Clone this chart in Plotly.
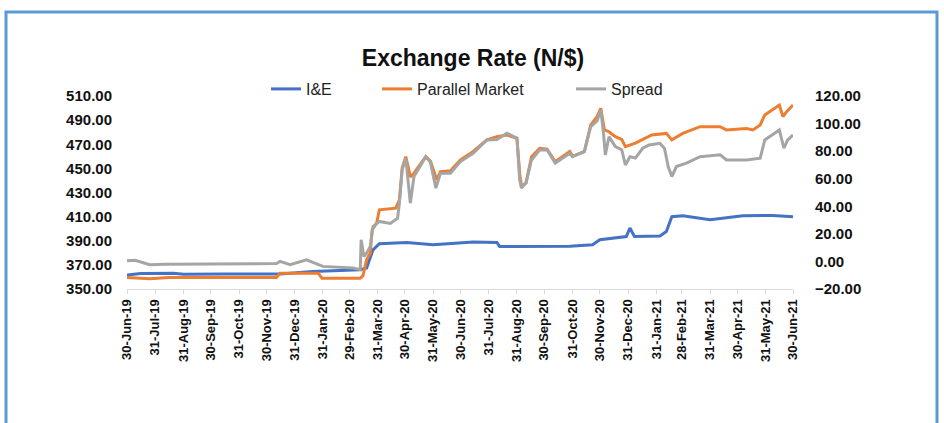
import plotly.graph_objects as go

# ---------------- data ----------------
ie_dates = ["2019-06-30", "2019-07-15", "2019-08-20", "2019-08-31", "2019-10-15", "2019-11-30",
            "2019-12-15", "2020-01-20", "2020-03-12", "2020-03-19", "2020-03-26", "2020-04-02",
            "2020-05-02", "2020-05-31", "2020-07-14", "2020-08-09", "2020-08-12", "2020-10-28",
            "2020-11-22", "2020-11-30", "2020-12-29", "2021-01-02", "2021-01-07", "2021-02-04",
            "2021-02-11", "2021-02-17", "2021-03-01", "2021-03-31", "2021-05-06", "2021-06-08",
            "2021-06-30"]
ie_values = [361.5, 362.8, 363.0, 362.3, 362.5, 362.0,
             362.4, 364.5, 366.0, 367.4, 382.5, 387.5,
             388.6, 386.7, 388.9, 388.6, 385.3, 385.5,
             386.7, 390.8, 393.5, 400.5, 393.5, 394.0,
             397.7, 410.0, 410.7, 407.4, 410.7, 411.0,
             410.0]

pm_dates = ["2019-06-30", "2019-07-25", "2019-08-15", "2019-12-11", "2019-12-15", "2020-01-26",
            "2020-01-30", "2020-03-12", "2020-03-15", "2020-03-19", "2020-03-23", "2020-03-25",
            "2020-03-30", "2020-04-02", "2020-04-20", "2020-04-24", "2020-04-27", "2020-05-01",
            "2020-05-06", "2020-05-10", "2020-05-23", "2020-05-28", "2020-06-04", "2020-06-08",
            "2020-06-19", "2020-06-30", "2020-07-14", "2020-07-29", "2020-08-09", "2020-08-20",
            "2020-08-31", "2020-09-03", "2020-09-05", "2020-09-10", "2020-09-16", "2020-09-25",
            "2020-10-03", "2020-10-12", "2020-10-28", "2020-10-31", "2020-11-13", "2020-11-20",
            "2020-11-27", "2020-12-01", "2020-12-05", "2020-12-10", "2020-12-17", "2020-12-24",
            "2020-12-28", "2021-01-08", "2021-01-26", "2021-02-11", "2021-02-17", "2021-03-01",
            "2021-03-20", "2021-04-11", "2021-04-18", "2021-05-10", "2021-05-17", "2021-05-25",
            "2021-05-30", "2021-06-15", "2021-06-19", "2021-06-23", "2021-06-30"]
pm_values = [359.5, 358.5, 359.5, 359.5, 363.0, 363.0,
             359.0, 359.0, 361.0, 374.2, 379.8, 399.0,
             404.6, 415.6, 417.0, 424.0, 450.0, 459.7,
             443.0, 446.0, 459.7, 456.0, 440.5, 447.3,
             448.0, 457.0, 464.0, 473.6, 476.3, 477.7,
             475.0, 446.0, 435.0, 438.0, 459.7, 466.7,
             466.0, 455.6, 464.0, 460.0, 464.0, 486.0,
             492.9, 499.8, 481.9, 480.4, 476.3, 474.0,
             468.0, 471.0, 477.7, 479.0, 473.6, 479.0,
             484.6, 484.6, 481.9, 483.0, 481.9, 486.0,
             494.3, 502.5, 492.9, 497.0, 502.5]

sp_dates = ["2019-06-30", "2019-07-09", "2019-07-25", "2019-08-11", "2019-12-11", "2019-12-15",
            "2019-12-26", "2020-01-13", "2020-01-31", "2020-03-04", "2020-03-12", "2020-03-13",
            "2020-03-16", "2020-03-19", "2020-03-23", "2020-03-26", "2020-04-02", "2020-04-14",
            "2020-04-22", "2020-04-24", "2020-04-27", "2020-05-01", "2020-05-06", "2020-05-10",
            "2020-05-23", "2020-05-28", "2020-06-03", "2020-06-08", "2020-06-19", "2020-06-30",
            "2020-07-14", "2020-07-29", "2020-08-09", "2020-08-20", "2020-08-31", "2020-09-03",
            "2020-09-05", "2020-09-10", "2020-09-16", "2020-09-25", "2020-10-03", "2020-10-12",
            "2020-10-28", "2020-10-31", "2020-11-13", "2020-11-20", "2020-11-27", "2020-12-01",
            "2020-12-04", "2020-12-06", "2020-12-10", "2020-12-17", "2020-12-24", "2020-12-28",
            "2021-01-02", "2021-01-08", "2021-01-16", "2021-01-23", "2021-02-04", "2021-02-09",
            "2021-02-13", "2021-02-17", "2021-02-22", "2021-03-05", "2021-03-20", "2021-04-11",
            "2021-04-18", "2021-05-10", "2021-05-25", "2021-05-30", "2021-06-15", "2021-06-20",
            "2021-06-24", "2021-06-30"]
sp_values = [0.5, 0.8, -2.4, -2.0, -1.5, 0.0,
             -2.4, 1.2, -3.6, -4.8, -6.0, 15.7,
             3.6, 6.0, 10.9, 25.3, 29.0, 27.5,
             31.4, 42.3, 66.4, 74.9, 42.3, 61.6,
             76.0, 72.0, 53.2, 64.0, 64.0, 72.4,
             78.5, 88.1, 88.5, 93.0, 89.4, 59.2,
             53.2, 57.0, 73.6, 80.9, 81.0, 71.3,
             78.5, 76.0, 79.7, 97.8, 102.0, 109.9,
             93.0, 77.3, 90.5, 83.3, 81.0, 70.0,
             76.0, 75.0, 82.1, 84.5, 85.7, 82.0,
             68.8, 61.6, 68.8, 71.3, 76.0, 77.3,
             73.6, 73.6, 74.9, 88.1, 95.4, 82.1,
             88.0, 91.8]

tick_dates = ["2019-06-30", "2019-07-31", "2019-08-31", "2019-09-30", "2019-10-31", "2019-11-30",
              "2019-12-31", "2020-01-31", "2020-02-29", "2020-03-31", "2020-04-30", "2020-05-31",
              "2020-06-30", "2020-07-31", "2020-08-31", "2020-09-30", "2020-10-31", "2020-11-30",
              "2020-12-31", "2021-01-31", "2021-02-28", "2021-03-31", "2021-04-30", "2021-05-31",
              "2021-06-30"]
tick_labels = ["30-Jun-19", "31-Jul-19", "31-Aug-19", "30-Sep-19", "31-Oct-19", "30-Nov-19",
               "31-Dec-19", "31-Jan-20", "29-Feb-20", "31-Mar-20", "30-Apr-20", "31-May-20",
               "30-Jun-20", "31-Jul-20", "31-Aug-20", "30-Sep-20", "31-Oct-20", "30-Nov-20",
               "31-Dec-20", "31-Jan-21", "28-Feb-21", "31-Mar-21", "30-Apr-21", "31-May-21",
               "30-Jun-21"]
left_ticks = [350, 370, 390, 410, 430, 450, 470, 490, 510]
right_ticks = [-20, 0, 20, 40, 60, 80, 100, 120]

# ---------------- figure ----------------
FONT = "Liberation Sans, Arial, sans-serif"
W, H = 944, 423
ML, MT = 127, 96           # plot area left / top on screen
MR = W - 793               # plot right on screen: 793
MB = H - 289               # plot bottom on screen: 289
PW, PH = W - ML - MR, H - MT - MB

def px(sx):
    return (sx - ML) / PW

def py(sy):
    return (H - MB - sy) / PH

fig = go.Figure()
fig.add_trace(go.Scatter(x=ie_dates, y=ie_values, name="I&E", mode="lines",
                         line=dict(color="#4472C4", width=3), legend="legend"))
fig.add_trace(go.Scatter(x=pm_dates, y=pm_values, name="Parallel Market", mode="lines",
                         line=dict(color="#ED7D31", width=3), legend="legend2"))
fig.add_trace(go.Scatter(x=sp_dates, y=sp_values, name="Spread", mode="lines", yaxis="y2",
                         line=dict(color="#A5A5A5", width=3), legend="legend3"))

leg_common = dict(orientation="h", yanchor="middle", xanchor="left",
                  font=dict(family=FONT, size=16, color="#222222"),
                  bgcolor="rgba(0,0,0,0)", itemwidth=30)
fig.update_layout(
    width=W, height=H, showlegend=True,
    margin=dict(l=ML, r=MR, t=MT, b=MB, autoexpand=False),
    paper_bgcolor="white", plot_bgcolor="white",
    title=dict(text="<b>Exchange Rate (N/$)</b>", x=473 / W, xref="container",
               xanchor="center", y=1 - 58 / H, yref="container", yanchor="middle",
               font=dict(family=FONT, size=23, color="#111111")),
    legend=dict(x=px(266), y=py(89), **leg_common),
    legend2=dict(x=px(377), y=py(89), **leg_common),
    legend3=dict(x=px(571), y=py(89), **leg_common),
    xaxis=dict(type="date", range=["2019-06-30", "2021-06-30"],
               tickvals=tick_dates, ticktext=tick_labels, tickangle=-90,
               tickfont=dict(family=FONT, size=13, color="#111111", weight="bold"),
               showline=True, linecolor="#D9D9D9", linewidth=1,
               ticks="outside", ticklen=4, tickcolor="#D9D9D9",
               showgrid=False, zeroline=False),
    yaxis=dict(range=[350, 510], tickvals=left_ticks, tickformat=".2f",
               tickfont=dict(family=FONT, size=15, color="#111111", weight="bold"),
               showgrid=False, zeroline=False, showline=False, ticks="",
               ticklabelstandoff=14),
    yaxis2=dict(range=[-20, 120], tickvals=right_ticks, tickformat=".2f",
                overlaying="y", side="right",
                tickfont=dict(family=FONT, size=15, color="#111111", weight="bold"),
                showgrid=False, zeroline=False, showline=False, ticks="",
                ticklabelstandoff=21),
    shapes=[dict(type="rect", xref="paper", yref="paper",
                 x0=px(6), x1=px(937), y0=py(440), y1=py(12),
                 line=dict(color="#5B9BD5", width=3), fillcolor="rgba(0,0,0,0)",
                 layer="above")],
)

fig.write_html("out.html", config={"displayModeBar": False},
               post_script="document.body.style.margin='0';document.body.style.overflow='hidden';")
